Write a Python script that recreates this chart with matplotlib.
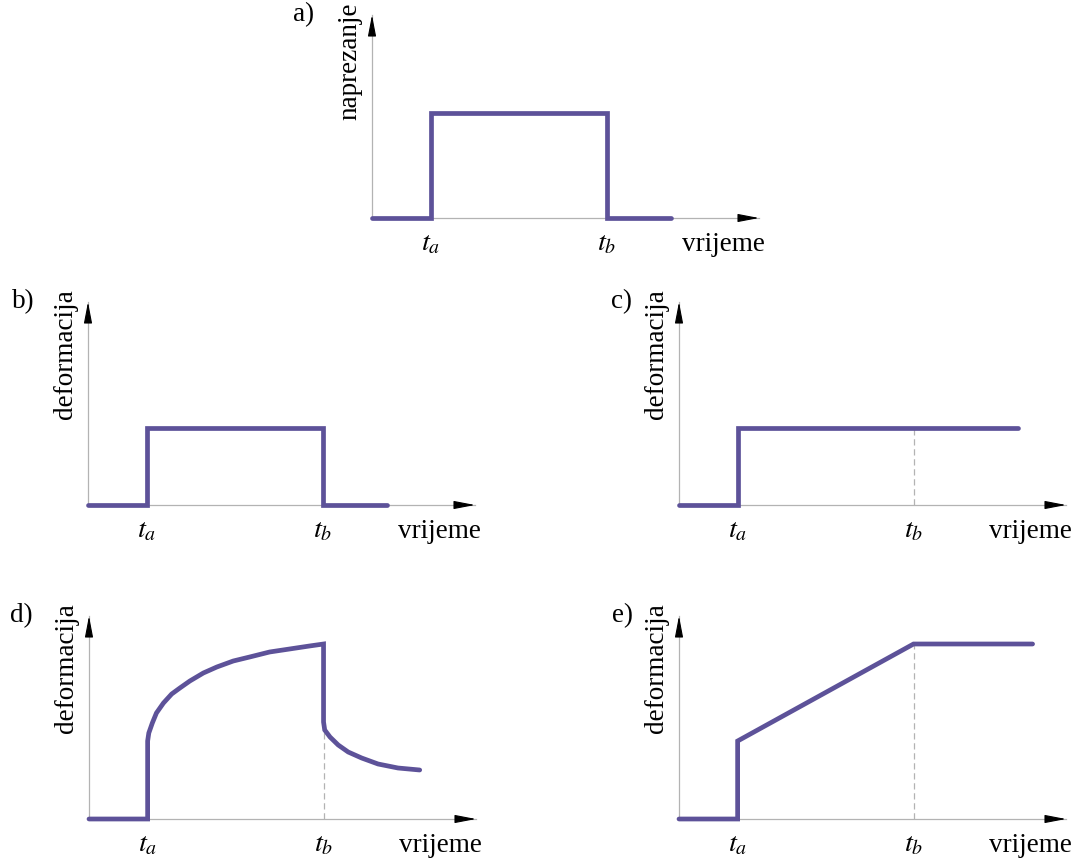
"""
Naprezanje i deformacija u vremenu - pet shema (a-e)
"""

import matplotlib.pyplot as plt

plt.rcParams["font.family"] = ["Liberation Serif", "DejaVu Serif"]
plt.rcParams["mathtext.fontset"] = "stix"

# ─────────────────────────────────────────────
# PODACI (vrijeme u jedinicama, t_a = 1, t_b = 4)
# ─────────────────────────────────────────────

t_a, t_b = 1.0, 4.0

# a) naprezanje
a_t = [0.0, 1.0, 1.0, 4.0, 4.0, 5.1]
a_y = [0.0, 0.0, 1.05, 1.05, 0.0, 0.0]

# b) elastična deformacija
b_t = [0.0, 1.0, 1.0, 4.0, 4.0, 5.1]
b_y = [0.0, 0.0, 0.77, 0.77, 0.0, 0.0]

# c) plastična deformacija
c_t = [0.0, 1.0, 1.0, 5.78]
c_y = [0.0, 0.0, 0.77, 0.77]

# d) viskoelastična deformacija (očitano sa slike)
d_t = [0.0, 1.0, 1.0, 1.02, 1.08, 1.15, 1.27, 1.41, 1.55, 1.72, 1.95, 2.18, 2.46,
       2.74, 3.08, 3.42, 3.76, 4.0,
       4.0, 4.02, 4.11, 4.25, 4.42, 4.65, 4.93, 5.27, 5.64]
d_y = [0.0, 0.0, 0.78, 0.86, 0.96, 1.06, 1.16, 1.25, 1.31, 1.38, 1.46, 1.52, 1.58,
       1.62, 1.67, 1.70, 1.73, 1.75,
       0.97, 0.89, 0.82, 0.74, 0.67, 0.61, 0.55, 0.51, 0.49]

# e) viskoplastična deformacija
e_t = [0.0, 1.0, 1.0, 4.0, 6.03]
e_y = [0.0, 0.0, 0.78, 1.75, 1.75]

panels = [
    # slovo, oznaka osi y, t, y, visina crtkane linije u t_b (None = bez)
    ("a)", "naprezanje", a_t, a_y, None),
    ("b)", "deformacija", b_t, b_y, None),
    ("c)", "deformacija", c_t, c_y, 0.77),
    ("d)", "deformacija", d_t, d_y, 0.97),
    ("e)", "deformacija", e_t, e_y, 1.75),
]

# ─────────────────────────────────────────────
# RASPORED (pikseli)
# ─────────────────────────────────────────────

FIG_W, FIG_H = 1078, 859
AX_W, AX_H = 387, 203
X_MAX, Y_MAX = 6.6, 2.03
origins = [(372, 218), (88, 505), (679, 505), (89, 819), (679, 819)]
letter_dx = [-57, -55, -49, -57, -48]

LINE = "#5D5299"
AXIS = "#b3b3b3"
FS = 19.5

fig = plt.figure(figsize=(FIG_W / 100, FIG_H / 100), dpi=100)

for (letter, ylabel, t, y, dash), (x0, y0), ldx in zip(panels, origins, letter_dx):
    ax = fig.add_axes([x0 / FIG_W, (FIG_H - y0) / FIG_H, AX_W / FIG_W, AX_H / FIG_H])
    ax.set_xlim(0, X_MAX)
    ax.set_ylim(0, Y_MAX)
    ax.axis("off")

    # osi
    ax.plot([0, X_MAX], [0, 0], color=AXIS, lw=0.9, clip_on=False, zorder=1)
    ax.plot([0, 0], [0, Y_MAX], color=AXIS, lw=0.9, clip_on=False, zorder=1)
    arrow = dict(arrowstyle="-|>,head_length=1.3,head_width=0.25", color="black",
                 lw=0.8, mutation_scale=10, shrinkA=0, shrinkB=0)
    ax.annotate("", xy=(X_MAX, 0), xytext=(-12, 0), textcoords="offset points",
                arrowprops=arrow, annotation_clip=False)
    ax.annotate("", xy=(0, Y_MAX), xytext=(0, -12), textcoords="offset points",
                arrowprops=arrow, annotation_clip=False)

    if dash is not None:
        ax.plot([t_b, t_b], [0, dash], color=AXIS, lw=0.9, ls=(0, (5, 3)), zorder=1)

    ax.plot(t, y, color=LINE, lw=3.4, solid_capstyle="round",
            solid_joinstyle="miter", clip_on=False, zorder=3)

    # tekst
    ax.annotate(r"$t_a$", xy=(t_a, 0), xytext=(0, -19), textcoords="offset points",
                ha="center", va="center", fontsize=FS + 1)
    ax.annotate(r"$t_b$", xy=(t_b, 0), xytext=(0, -19), textcoords="offset points",
                ha="center", va="center", fontsize=FS + 1)
    ax.annotate("vrijeme", xy=(X_MAX, 0), xytext=(4, -19), textcoords="offset points",
                ha="right", va="center", fontsize=FS)
    ax.annotate(ylabel, xy=(0, Y_MAX), xytext=(-16, 9), textcoords="offset points",
                ha="center", va="top", rotation=90, fontsize=FS)
    ax.annotate(letter, xy=(0, Y_MAX), xytext=(ldx, 0), textcoords="offset points",
                ha="left", va="center", fontsize=FS)

fig.savefig("out.png", dpi=100)
